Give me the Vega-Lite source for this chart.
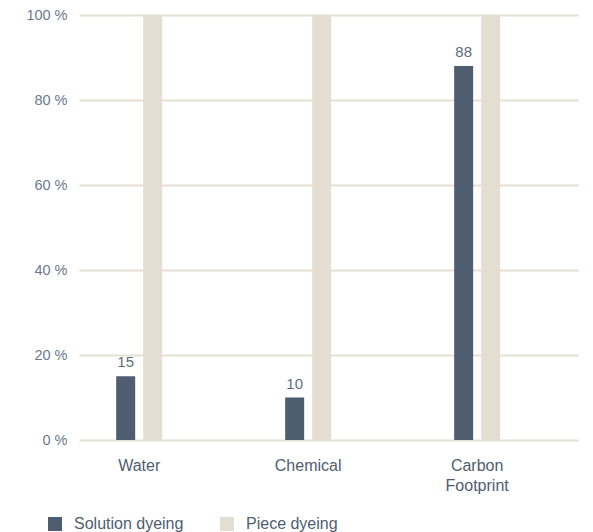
{
  "$schema": "https://vega.github.io/schema/vega-lite/v6.json",
  "width": 499,
  "height": 425,
  "autosize": "none",
  "padding": {"left": 79, "top": 15, "right": 15, "bottom": 92},
  "config": {
    "view": {"stroke": null},
    "font": "Liberation Sans"
  },
  "data": {
    "values": [
      {"category": "Water", "method": "Solution dyeing", "value": 15},
      {"category": "Water", "method": "Piece dyeing", "value": 100},
      {"category": "Chemical", "method": "Solution dyeing", "value": 10},
      {"category": "Chemical", "method": "Piece dyeing", "value": 100},
      {"category": "Carbon Footprint", "method": "Solution dyeing", "value": 88},
      {"category": "Carbon Footprint", "method": "Piece dyeing", "value": 100}
    ]
  },
  "encoding": {
    "x": {
      "field": "category",
      "type": "nominal",
      "sort": ["Water", "Chemical", "Carbon Footprint"],
      "scale": {"paddingInner": 0.6805, "paddingOuter": 0.3167, "align": 0.31},
      "axis": {
        "title": null,
        "domain": false,
        "ticks": false,
        "labelAngle": 0,
        "labelPadding": 17,
        "labelFontSize": 16,
        "labelColor": "#4f5d70",
        "labelExpr": "datum.label == 'Carbon Footprint' ? ['Carbon', 'Footprint'] : datum.label",
        "labelLineHeight": 20
      }
    },
    "xOffset": {
      "field": "method",
      "type": "nominal",
      "sort": ["Solution dyeing", "Piece dyeing"],
      "scale": {"paddingInner": 0.296, "paddingOuter": 0.148}
    },
    "y": {
      "field": "value",
      "type": "quantitative",
      "scale": {"domain": [0, 100]},
      "axis": {
        "title": null,
        "values": [0, 20, 40, 60, 80, 100],
        "domain": false,
        "ticks": false,
        "labelPadding": 12,
        "labelFontSize": 14.5,
        "labelColor": "#6b7a8f",
        "labelExpr": "datum.value + ' %'",
        "gridColor": "#e6dfd4",
        "gridWidth": 2
      }
    }
  },
  "layer": [
    {
      "mark": {"type": "bar"},
      "encoding": {
        "color": {
          "field": "method",
          "type": "nominal",
          "sort": ["Solution dyeing", "Piece dyeing"],
          "scale": {"domain": ["Solution dyeing", "Piece dyeing"], "range": ["#4f5d70", "#e4ddd2"]},
          "legend": {
            "title": null,
            "orient": "none",
            "direction": "horizontal",
            "legendX": -32,
            "legendY": 501,
            "symbolType": "square",
            "symbolSize": 196,
            "symbolStrokeWidth": 0,
            "symbolOpacity": 1,
            "labelFontSize": 16,
            "labelColor": "#4f5d70",
            "labelOffset": 11,
            "columnPadding": 35
          }
        }
      }
    },
    {
      "transform": [{"filter": "datum.method == 'Solution dyeing'"}],
      "mark": {"type": "text", "dy": -14, "fontSize": 15, "color": "#5f6b7d"},
      "encoding": {
        "text": {"field": "value", "type": "quantitative"}
      }
    }
  ]
}
